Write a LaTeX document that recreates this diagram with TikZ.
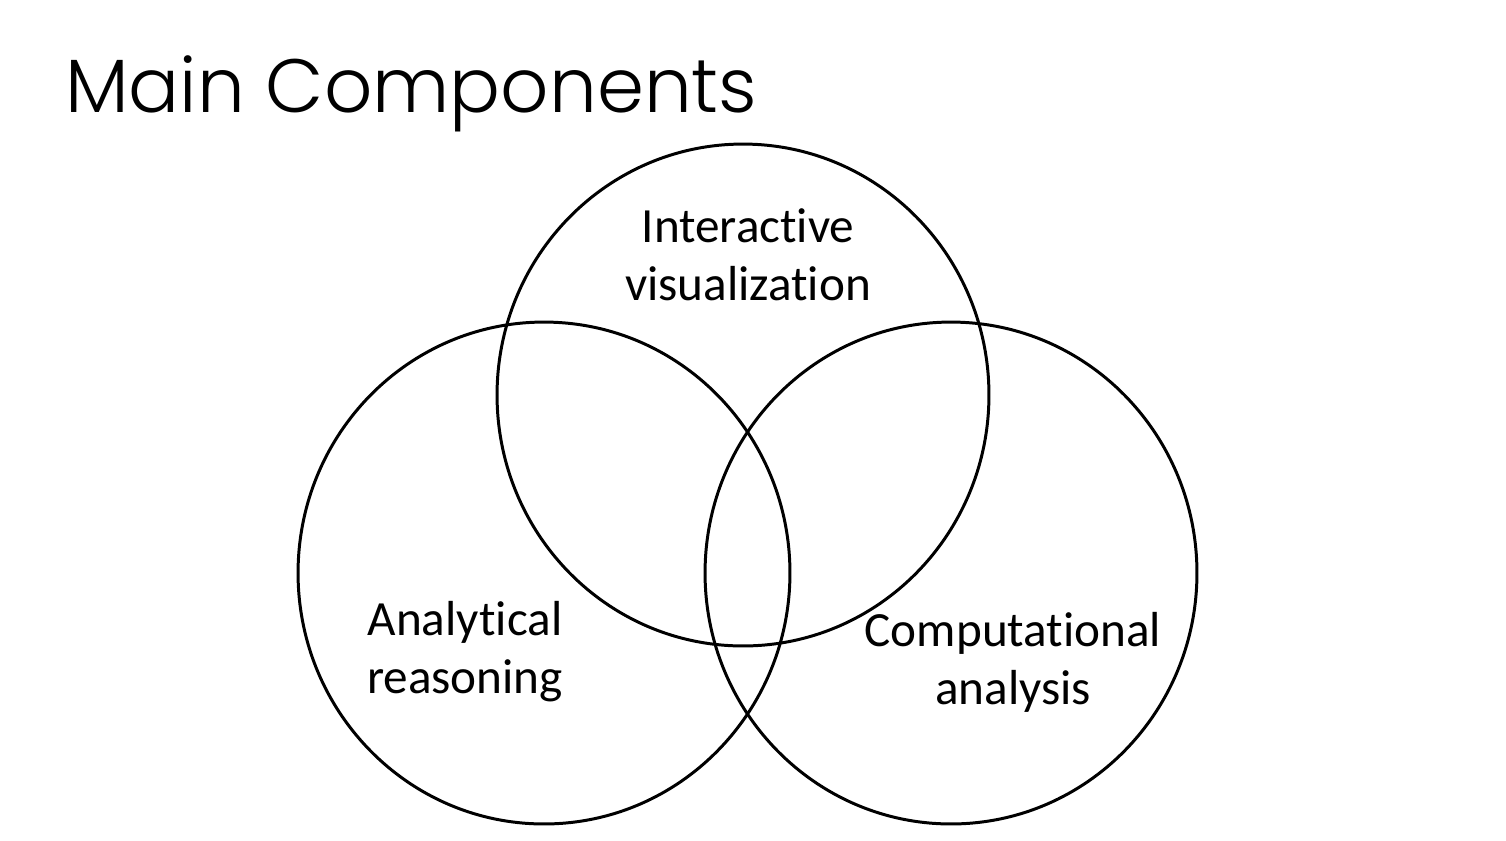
\documentclass[tikz,border=0pt]{standalone}
\usepackage{fontspec}
\setmainfont[Ligatures={NoCommon}]{Carlito}
\newfontfamily\headfont{Poppins Light}
\usetikzlibrary{positioning,shapes.geometric}

\begin{document}
\begin{tikzpicture}[x=0.02cm,y=-0.02cm,
    ring/.style={draw=black,line width=1.7pt,ellipse,inner sep=0pt,
      minimum width=9.84cm,minimum height=10.04cm},
    lbl/.style={align=center,font=\fontsize{28}{33}\selectfont,inner sep=0pt}]
    \useasboundingbox (0,0) rectangle (1506,840);
    \node[anchor=base west,font=\headfont\fontsize{43}{48}\selectfont,inner sep=0pt] (title) at (65,112) {Main Components};
    \node[ring] (vis) at (743,395) {};
    \node[ring] (reason) at (544,573) {};
    \node[ring] (comp) at (951,573) {};
    \node[lbl] (vistext) at (748,255) {Interactive\\visualization};
    \node[lbl] (reasontext) at (465,652) {Analytical\\reasoning};
    \node[lbl] (comptext) at (1013,662) {Computational\\analysis};
  \end{tikzpicture}
\end{document}
